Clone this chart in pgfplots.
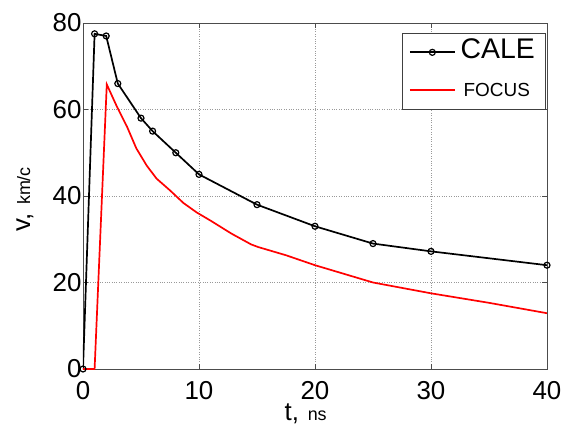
\documentclass[border=0pt]{standalone}
\usepackage{fontspec}
\setmainfont{Liberation Sans}
\usepackage{pgfplots}
\pgfplotsset{compat=1.18}
\begin{document}
\begin{tikzpicture}
\begin{axis}[
  at={(0,0)}, anchor=south west,
  scale only axis,
  width=464bp, height=346bp,
  xmin=0, xmax=40, ymin=0, ymax=80,
  xtick={0,10,20,30,40}, ytick={0,20,40,60,80},
  /pgf/number format/assume math mode=true,
  ticklabel style={font=\fontsize{26}{30}\selectfont},
  xticklabel style={yshift=-9bp},
  yticklabel style={xshift=2bp},
  tick align=inside,
  major tick length=5bp,
  tick style={color=black!70, line width=0.6bp},
  axis line style={color=black!70, line width=0.8bp},
  grid=major,
  major grid style={dotted, color=black!40, line width=0.6bp},
  xlabel={t,\,\,{\fontsize{18}{20}\selectfont ns}},
  ylabel={v,\,\,{\fontsize{18}{20}\selectfont km/c}},
  label style={font=\fontsize{26}{30}\selectfont},
  xlabel style={at={(axis description cs:0.48,-0.128)}, anchor=center},
  ylabel style={at={(axis description cs:-0.125,0.49)}, anchor=center},
  legend style={at={(axis description cs:0.996,0.971)}, anchor=north east,
    draw=black!75, line width=0.6bp, inner xsep=7bp, inner ysep=4bp,
    row sep=8bp, column sep=2bp,
    nodes={inner sep=3bp, text height=18bp, text depth=6bp},
    cells={anchor=west}},
  legend image code/.code={%
    \draw[mark repeat=2,mark phase=2,#1] plot coordinates {(0bp,0bp) (22.5bp,0bp) (45bp,0bp)};},
]
\addplot[black, line width=1.7bp, mark=o, mark size=3bp, mark options={line width=1.2bp, fill=white}]
coordinates {(0,0)(1,77.5)(2,77)(3,66)(5,58)(6,55)(8,50)(10,45)(15,38)(20,33)(25,29)(30,27.2)(40,24)};
\addlegendentry{\fontsize{28.5}{30}\selectfont CALE\hspace{6bp}}
\addplot[red, line width=1.7bp]
coordinates {(0,0)(1,0)(2.05,65.8)(2.9,60.8)(3.8,56)(4.6,51)(5.5,47)(6.35,44)(7.5,41.3)(8.65,38.4)(9.8,36.2)(11,34.3)(12.8,31.3)(14.5,28.8)(15.1,28.2)(17.5,26.3)(20,24)(22.5,22)(25,20)(30,17.5)(35,15.3)(40,12.9)};
\addlegendentry{\fontsize{19}{20}\selectfont\hspace{3bp}FOCUS}
\end{axis}
\pgfresetboundingbox
\path (-83bp,-66bp) rectangle (479bp,369bp);
\end{tikzpicture}
\end{document}
